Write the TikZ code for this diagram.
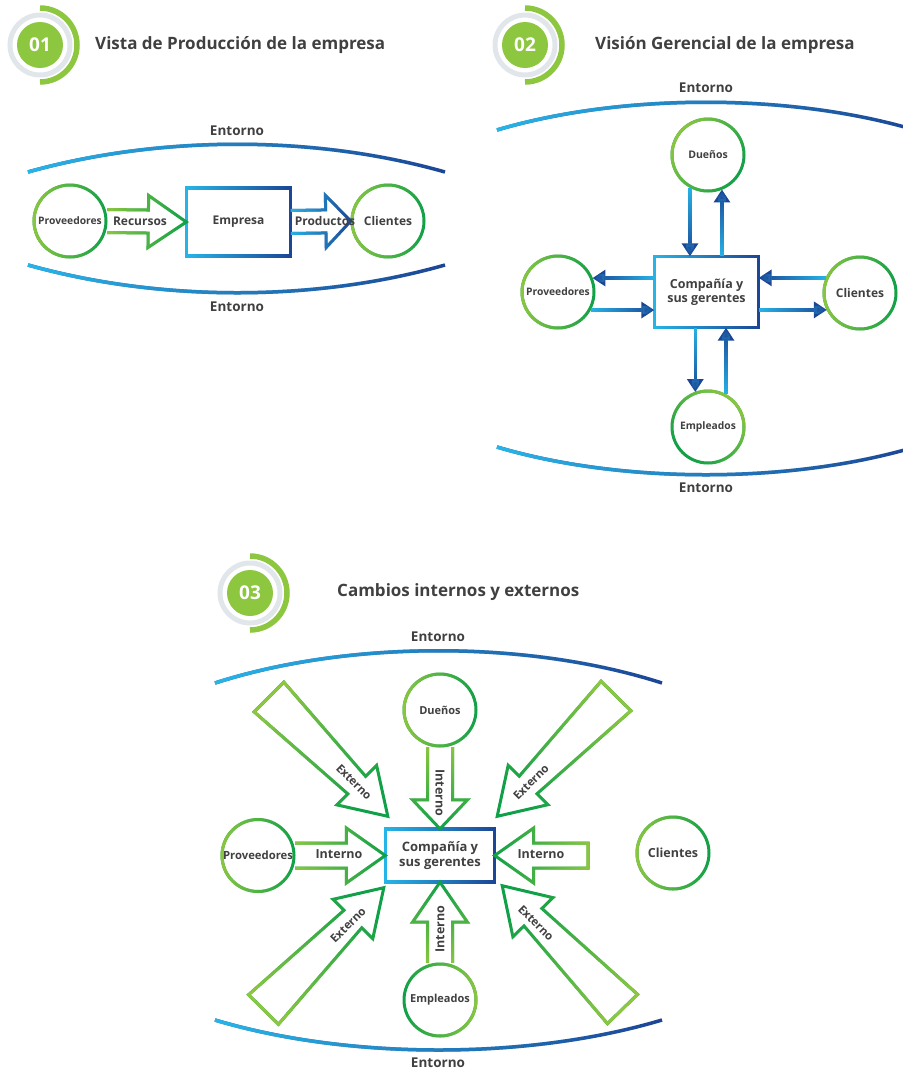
\documentclass[tikz,border=0pt]{standalone}
\usepackage{fontspec}
\setmainfont{Open Sans}
\usetikzlibrary{arrows.meta, calc, fadings, positioning}
\definecolor{LightGreen}{RGB}{141, 198, 63}
\definecolor{DarkGreen}{RGB}{16, 160, 72}
\definecolor{LightBlue}{RGB}{39, 182, 233}
\definecolor{DarkBlue}{RGB}{28, 69, 148}
\definecolor{TextGray}{RGB}{64, 64, 64}
\definecolor{RingGray}{RGB}{225, 230, 234}

\tikzfading[name=fade right, left color=transparent!0, right color=transparent!100]

\tikzset{
  txt/.style={text=TextGray, font=\bfseries\fontsize{#1}{#1}\selectfont, inner sep=0pt},
  txt/.default=12,
  title/.style={txt=17, anchor=west},
  env/.style={txt=13.5},
  envline/.style={line width=3.5pt},
  actor/.style={circle, minimum size=74pt, inner sep=0pt, txt=#1},
  actor/.default=11,
  company/.style={rectangle, align=center, inner sep=0pt, text=TextGray,
    font=\bfseries\fontsize{12.5}{14.5}\selectfont, minimum width=104pt, minimum height=71pt},
  badge/.style={circle, fill=LightGreen, minimum size=46pt, inner sep=0pt, text=white,
    font=\bfseries\fontsize{19}{19}\selectfont},
  stroke/.style={line width=3pt, line join=miter},
  flow/.style={line width=3.5pt, -{Triangle[width=16pt,length=13pt]}},
}

% stroke in two colours: dark underneath, light one fading out towards the angle
\newcommand{\gradstroke}[4][]{%
  \draw[stroke, Dark#2, #1] #4;
  \draw[stroke, Light#2, #1, path fading=fade right, fading angle=#3] #4;
}
% outlined block arrow: [close] from to tailw neckw headw headlen colour angle
\newcommand{\bigarrow}[9][]{%
  \coordinate (ba-nk) at ($(#3)!#7!(#2)$);
  \path ($(#2)!#4!90:(#3)$) coordinate (ba-t1)
        ($(#2)!#4!-90:(#3)$) coordinate (ba-t2)
        ($(ba-nk)!#5!90:(#3)$) coordinate (ba-s1)
        ($(ba-nk)!#5!-90:(#3)$) coordinate (ba-s2)
        ($(ba-nk)!#6!90:(#3)$) coordinate (ba-h1)
        ($(ba-nk)!#6!-90:(#3)$) coordinate (ba-h2);
  \gradstroke{#8}{#9}{(ba-t1) -- (ba-s1) -- (ba-h1) -- (#3) -- (ba-h2) -- (ba-s2) -- (ba-t2) #1}%
}
% badge with grey ring and green half ring
\newcommand{\badgering}[1]{%
  \draw[RingGray, line width=5pt] (#1.center) circle[radius=30];
  \draw[LightGreen, line width=5.5pt] ([shift={(90:37)}]#1.center) arc[start angle=90, end angle=-90, radius=37];
}

\begin{document}
\begin{tikzpicture}[x=1pt, y=-1pt]
  \useasboundingbox (0,0) rectangle (903,1072);

  % ---------- 01 Vista de Produccion ----------
  \node[badge] (badge1) at (40,45) {01};
  \badgering{badge1}
  \node[title] (title1) at (95,45) {Vista de Producción de la empresa};

  \node[env] (env1t) at (237,131) {Entorno};
  \gradstroke[envline]{Blue}{0}{(28,172) .. controls (160,135) and (315,135) .. (445,172)}
  \gradstroke[envline]{Blue}{0}{(28,265) .. controls (160,302) and (315,302) .. (445,265)}
  \node[env] (env1b) at (237,307) {Entorno};

  \node[actor=10.3] (prov1) at (70,221) {Proveedores};
  \node[company, minimum height=68pt, font=\bfseries\fontsize{12}{14}\selectfont] (emp1) at (238.5,222) {Empresa};
  \node[actor=12] (clie1) at (388,221) {Clientes};
  \gradstroke{Green}{0}{(prov1.center) circle[radius=36]}
  \gradstroke{Green}{0}{(clie1.center) circle[radius=36]}
  \gradstroke[line width=3.5pt]{Blue}{0}{(emp1.north west) rectangle (emp1.south east)}

  \bigarrow{prov1.east}{emp1.west}{11.5pt}{11.5pt}{26pt}{38pt}{Green}{0}
  \bigarrow{emp1.east}{clie1.west}{11.5pt}{11.5pt}{26pt}{25pt}{Blue}{0}
  \node[txt] (recu) at (140,221) {Recursos};
  \node[txt] (prod) at (325,221) {Productos};

  % ---------- 02 Vision Gerencial ----------
  \node[badge] (badge2) at (525,45) {02};
  \badgering{badge2}
  \node[title] (title2) at (595,45) {Visión Gerencial de la empresa};

  \node[env] (env2t) at (706,88) {Entorno};
  \gradstroke[envline]{Blue}{0}{(497,130) .. controls (622,93) and (790,93) .. (915,130)}
  \gradstroke[envline]{Blue}{0}{(497,447) .. controls (622,484) and (790,484) .. (915,447)}
  \node[env] (env2b) at (706,488) {Entorno};

  \node[company] (comp2) at (706.5,292) {Compañía y\\sus gerentes};
  \node[actor=10.5] (duen2) at (708,155) {Dueños};
  \node[actor=10.3] (prov2) at (558,292) {Proveedores};
  \node[actor=12] (clie2) at (860,293) {Clientes};
  \node[actor=10.3] (empl2) at (708,427) {Empleados};
  \gradstroke[line width=3.5pt]{Blue}{0}{(comp2.north west) rectangle (comp2.south east)}
  \gradstroke{Green}{-30}{(duen2.center) circle[radius=36]}
  \gradstroke{Green}{0}{(prov2.center) circle[radius=36]}
  \gradstroke{Green}{0}{(clie2.center) circle[radius=36]}
  \gradstroke{Green}{225}{(empl2.center) circle[radius=36]}

  \gradstroke[flow]{Blue}{-90}{(duen2.-119) -- (duen2.-119 |- comp2.north)}
  \gradstroke[flow]{Blue}{90}{(duen2.-68 |- comp2.north) -- (duen2.-68)}
  \gradstroke[flow]{Blue}{180}{(prov2.22 -| comp2.west) -- (prov2.22)}
  \gradstroke[flow]{Blue}{0}{(prov2.-29) -- (prov2.-29 -| comp2.west)}
  \gradstroke[flow]{Blue}{180}{(clie2.156) -- (clie2.156 -| comp2.east)}
  \gradstroke[flow]{Blue}{0}{(clie2.-153 -| comp2.east) -- (clie2.-153)}
  \gradstroke[flow]{Blue}{-90}{(empl2.110 |- comp2.south) -- (empl2.110)}
  \gradstroke[flow]{Blue}{90}{(empl2.61) -- (empl2.61 |- comp2.south)}

  % ---------- 03 Cambios internos y externos ----------
  \node[badge] (badge3) at (250,593) {03};
  \badgering{badge3}
  \node[title] (title3) at (337,592) {Cambios internos y externos};

  \node[env] (env3t) at (438,637) {Entorno};
  \gradstroke[envline]{Blue}{0}{(215,683) .. controls (349,640) and (528,640) .. (662,683)}
  \gradstroke[envline]{Blue}{0}{(215,1020) .. controls (349,1060) and (528,1060) .. (662,1020)}
  \node[env] (env3b) at (438,1063) {Entorno};

  \node[company, minimum width=109pt, minimum height=53pt, font=\bfseries\fontsize{13}{15}\selectfont] (comp3) at (440,855.5) {Compañía y\\sus gerentes};
  \node[actor=11] (duen3) at (440,710) {Dueños};
  \node[actor=11.3] (prov3) at (258,855.5) {Proveedores};
  \node[actor=12.5] (clie3) at (673,853) {Clientes};
  \node[actor=11] (empl3) at (440,1000) {Empleados};
  \gradstroke[line width=3.5pt]{Blue}{0}{(comp3.north west) rectangle (comp3.south east)}
  \gradstroke{Green}{0}{(duen3.center) circle[radius=36]}
  \gradstroke{Green}{0}{(prov3.center) circle[radius=36]}
  \gradstroke{Green}{0}{(clie3.center) circle[radius=36]}
  \gradstroke{Green}{180}{(empl3.center) circle[radius=36]}

  % internal changes
  \coordinate (intR) at (588,855.5);
  \bigarrow{duen3.south}{comp3.north}{12.5pt}{12.5pt}{27.5pt}{29pt}{Green}{-90}
  \bigarrow{empl3.north}{comp3.south}{12.5pt}{12.5pt}{27.5pt}{40pt}{Green}{90}
  \bigarrow{prov3.east}{comp3.west}{12.5pt}{12.5pt}{27.5pt}{39pt}{Green}{0}
  \bigarrow[-- cycle]{intR}{comp3.east}{12.5pt}{12.5pt}{27.5pt}{39pt}{Green}{180}
  \node[txt=12.5, rotate=-90] (intN) at (440,793) {Interno};
  \node[txt=12.5, rotate=90] (intS) at (440,929) {Interno};
  \node[txt=12.5] (intW) at (339,854) {Interno};
  \node[txt=12.5] (intE) at (541,854) {Interno};

  % external changes
  \coordinate (extTL) at (269,697);
  \coordinate (extTR) at (616,696);
  \coordinate (extBL) at (263.5,1009.5);
  \coordinate (extBR) at (622.5,1009);
  \coordinate (tipTL) at ([shift={(2.5,-12.5)}]comp3.north west);
  \coordinate (tipTR) at ([shift={(2.5,-12.5)}]comp3.north east);
  \coordinate (tipBL) at ([shift={(-1.5,5.5)}]comp3.south west);
  \coordinate (tipBR) at ([shift={(7.5,3.5)}]comp3.south east);
  \bigarrow[-- cycle]{extTL}{tipTL}{21pt}{12.5pt}{28pt}{44pt}{Green}{-45}
  \bigarrow[-- cycle]{extTR}{tipTR}{21pt}{12.5pt}{28pt}{44pt}{Green}{-135}
  \bigarrow[-- cycle]{extBL}{tipBL}{21pt}{12.5pt}{28pt}{44pt}{Green}{45}
  \bigarrow[-- cycle]{extBR}{tipBR}{21pt}{12.5pt}{28pt}{44pt}{Green}{135}
  \node[txt=11.5, rotate=-45] (extLblTL) at (354,782) {Externo};
  \node[txt=11.5, rotate=45] (extLblTR) at (531,782) {Externo};
  \node[txt=11.5, rotate=45] (extLblBL) at (348,925) {Externo};
  \node[txt=11.5, rotate=-45] (extLblBR) at (536,923) {Externo};
\end{tikzpicture}
\end{document}
